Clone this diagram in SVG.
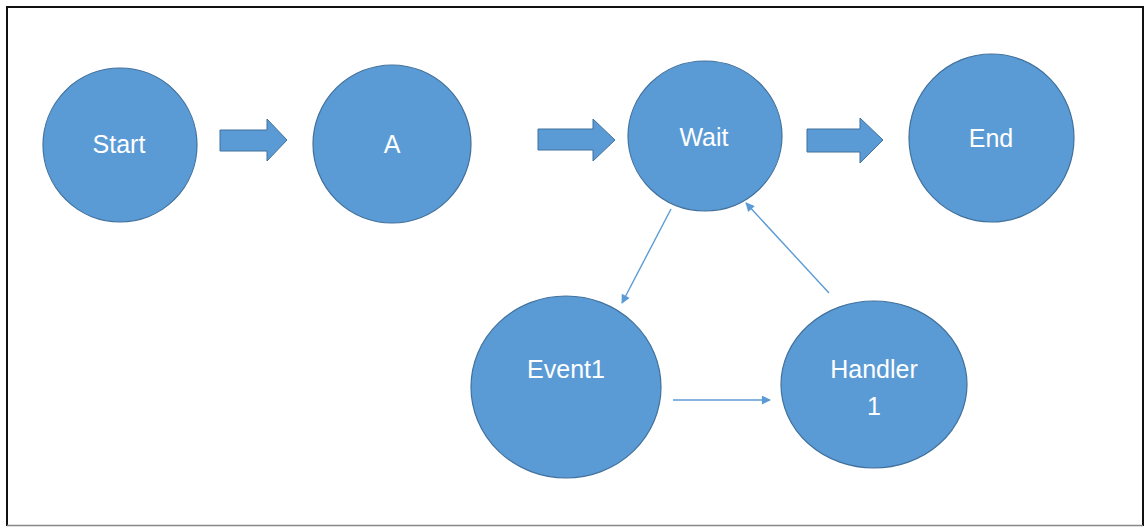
<svg xmlns="http://www.w3.org/2000/svg" width="1145" height="527" viewBox="0 0 1145 527">
<defs>
<style>
.node{fill:#5B9BD5;stroke:#41719C;stroke-width:1.2}
.lbl{fill:#FFFFFF;font-family:"Liberation Sans",Arial,sans-serif;font-size:25px;text-anchor:middle}
.blk{fill:#5B9BD5;stroke:#41719C;stroke-width:1}
.ln{stroke:#5B9BD5;stroke-width:1.4;fill:none;marker-end:url(#ah)}
</style>
<marker id="ah" viewBox="0 0 10 10" refX="9" refY="5" markerWidth="10" markerHeight="9" markerUnits="userSpaceOnUse" orient="auto">
<path d="M0,0 L10,5 L0,10 z" fill="#5B9BD5"/>
</marker>
</defs>
<rect x="0" y="0" width="1145" height="527" fill="#FFFFFF"/>
<path d="M7,526 V7 H1143 V526" fill="none" stroke="#111111" stroke-width="2"/>
<line x1="7" y1="525.5" x2="1143" y2="525.5" stroke="#888888" stroke-width="1.5"/>
<g id="connectors">
<path class="blk" d="M220,130 H267 V119 L287,140 L267,161 V151 H220 Z"/>
<path class="blk" d="M538,129 H593 V119 L615,140 L593,161 V150 H538 Z"/>
<path class="blk" d="M807,129 H860 V118 L883,140 L860,163 V152 H807 Z"/>
<line class="ln" x1="671" y1="209" x2="622" y2="303"/>
<line class="ln" x1="829" y1="293" x2="746" y2="203"/>
<line class="ln" x1="673" y1="400" x2="770" y2="400"/>
</g>
<g id="start"><circle class="node" cx="120" cy="145" r="77"/><text class="lbl" x="119" y="153">Start</text></g>
<g id="a"><circle class="node" cx="392" cy="144" r="79"/><text class="lbl" x="392" y="153">A</text></g>
<g id="wait"><ellipse class="node" cx="705" cy="136" rx="77" ry="75"/><text class="lbl" x="704" y="146">Wait</text></g>
<g id="end"><ellipse class="node" cx="991.5" cy="138" rx="82.5" ry="84"/><text class="lbl" x="991" y="147">End</text></g>
<g id="event1"><ellipse class="node" cx="566" cy="387" rx="95" ry="91"/><text class="lbl" x="566" y="378">Event1</text></g>
<g id="handler1"><ellipse class="node" cx="874" cy="384.5" rx="93" ry="83.5"/><text class="lbl" x="874" y="378">Handler</text><text class="lbl" x="874" y="415">1</text></g>
</svg>
